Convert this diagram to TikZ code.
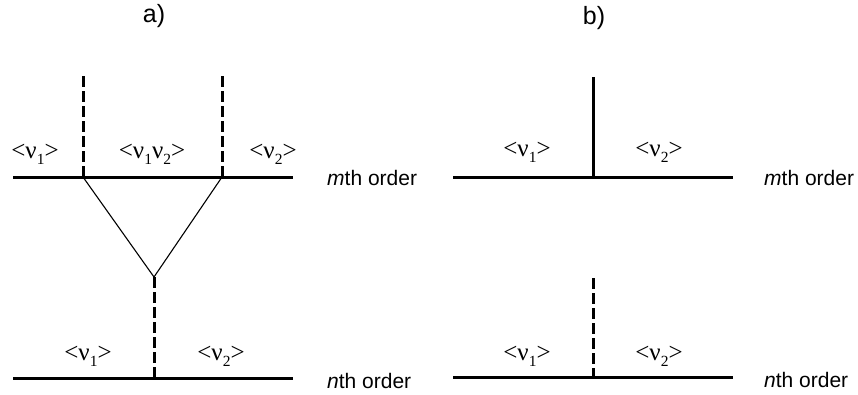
\documentclass[tikz,border=0pt]{standalone}
\usepackage{fontspec}
\setmainfont{Liberation Serif}
\newfontfamily\arialf{Liberation Sans}
\newcommand\sbs[1]{\raisebox{-0.55ex}{\fontsize{15.5}{15.5}\selectfont #1}}
\begin{document}
\begin{tikzpicture}[x=1pt,y=-1pt,
  heavy/.style={line width=3pt},
  dashv/.style={line width=3pt, dash pattern=on 11pt off 4pt},
  thinline/.style={line width=1.1pt},
  lab/.style={font=\fontsize{25}{25}\selectfont, anchor=base, inner sep=0pt},
  ord/.style={font=\arialf\fontsize{21}{21}\selectfont, anchor=west, inner sep=0pt},
  ttl/.style={font=\arialf\fontsize{25}{25}\selectfont, inner sep=0pt}]
\useasboundingbox (0,0) rectangle (858,394);

% titles
\node[ttl] (ta) at (154,16) {a)};
\node[ttl] (tb) at (594,18) {b)};

% ---- panel a ----
\coordinate (aL1) at (13,177);
\coordinate (aR1) at (293,177);
\coordinate (aP1) at (83,177);
\coordinate (aP2) at (222,177);
\coordinate (aT1) at (83,76);
\coordinate (aT2) at (222,76);
\coordinate (aA) at (154,277);
\coordinate (aL2) at (13,378);
\coordinate (aR2) at (293,378);
\coordinate (aB) at (154,378);

\draw[heavy] (aL1) -- (aR1);
\draw[heavy] (aL2) -- (aR2);
\draw[dashv] (aT1) -- (aP1);
\draw[dashv] (aT2) -- (aP2);
\draw[thinline] (aP1) -- (aA) -- (aP2);
\draw[dashv] (aA) -- (aB);

\node[lab] (a1) at (35,158) {<ν\sbs{1}>};
\node[lab] (a12) at (152,158) {<ν\sbs{1}ν\sbs{2}>};
\node[lab] (a2) at (273,158) {<ν\sbs{2}>};
\node[lab] (a3) at (88,360) {<ν\sbs{1}>};
\node[lab] (a4) at (221,360) {<ν\sbs{2}>};
\node[ord] (am) at (327,178) {\textit{m}th order};
\node[ord] (an) at (327,381) {\textit{n}th order};

% ---- panel b ----
\coordinate (bL1) at (453,177);
\coordinate (bR1) at (733,177);
\coordinate (bT) at (593,77);
\coordinate (bP) at (593,177);
\coordinate (bL2) at (453,377);
\coordinate (bR2) at (733,377);
\coordinate (bU) at (593,278);
\coordinate (bQ) at (593,377);

\draw[heavy] (bL1) -- (bR1);
\draw[heavy] (bL2) -- (bR2);
\draw[heavy] (bT) -- (bP);
\draw[dashv] (bU) -- (bQ);

\node[lab] (b1) at (527,156) {<ν\sbs{1}>};
\node[lab] (b2) at (659,156) {<ν\sbs{2}>};
\node[lab] (b3) at (527,360) {<ν\sbs{1}>};
\node[lab] (b4) at (659,360) {<ν\sbs{2}>};
\node[ord] (bm) at (764,178) {\textit{m}th order};
\node[ord] (bn) at (764,380) {\textit{n}th order};
\end{tikzpicture}
\end{document}
